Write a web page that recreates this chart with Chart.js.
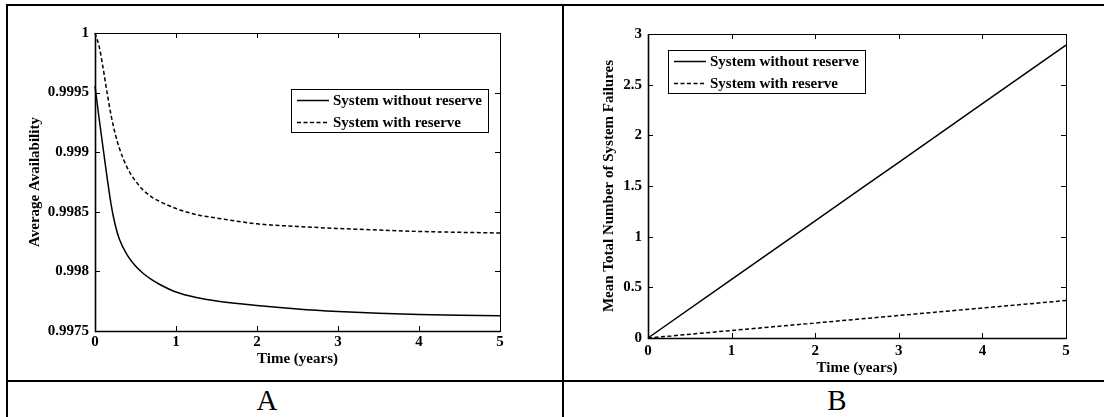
<!DOCTYPE html>
<html>
<head>
<meta charset="utf-8">
<script src="https://cdn.jsdelivr.net/npm/chart.js@4.4.1/dist/chart.umd.min.js"></script>
<style>
    body { margin: 0; background: #fff; }
    #page { position: relative; width: 1104px; height: 417px; overflow: hidden; font-family: "Liberation Serif", serif; }
    .rule { position: absolute; background: #000; }
    canvas { position: absolute; top: 0; }
    .tag { position: absolute; font-size: 29px; line-height: 1; transform: translate(-50%, -50%); }
</style>
</head>
<body>
<div id="page">
    <div class="rule" style="left:6px; top:4px; width:1098px; height:2px"></div>
    <div class="rule" style="left:6px; top:4px; width:2px; height:413px"></div>
    <div class="rule" style="left:562px; top:4px; width:2px; height:413px"></div>
    <div class="rule" style="left:6px; top:380px; width:1098px; height:2px"></div>
    <canvas id="chartA" width="552" height="381" style="left:0"></canvas>
    <canvas id="chartB" width="541" height="381" style="left:563px"></canvas>
    <div class="tag" style="left:267px; top:400px">A</div>
    <div class="tag" style="left:837px; top:400px">B</div>
</div>
<script>
const FONT = '"Liberation Serif", serif';

const seriesNames = ['System without reserve', 'System with reserve'];

// Panel A - average availability vs time
const timeA = [0, 0.05, 0.1, 0.15, 0.2, 0.25, 0.3, 0.4, 0.5, 0.6, 0.7, 0.8, 1.0, 1.25, 1.5, 2, 2.5, 3, 3.5, 4, 4.5, 5];
const availNoReserve = [0.999555, 0.999287, 0.999035, 0.998784, 0.998557, 0.998389, 0.998272, 0.998135, 0.998045, 0.997980,
    0.997930, 0.997890, 0.997827, 0.997781, 0.997752, 0.997714, 0.997685, 0.997664, 0.997649, 0.997638, 0.997633, 0.997628];
const availReserve = [1.0, 0.999891, 0.999706, 0.999497, 0.999304, 0.999153, 0.999035, 0.998867, 0.998758, 0.998679,
    0.998624, 0.998586, 0.998528, 0.998477, 0.998448, 0.998399, 0.998377, 0.998360, 0.998347, 0.998335, 0.998328, 0.998322];
const availTicks = [0.9975, 0.998, 0.9985, 0.999, 0.9995, 1];
const availTickLabels = ['0.9975', '0.998', '0.9985', '0.999', '0.9995', '1'];

// Panel B - mean total number of system failures vs time
const timeB = [0, 1, 2, 3, 4, 5];
const failNoReserve = [0, 0.578, 1.156, 1.734, 2.312, 2.89];
const failReserve = [0, 0.074, 0.148, 0.222, 0.296, 0.37];
const failTicks = [0, 0.5, 1, 1.5, 2, 2.5, 3];
const failTickLabels = ['0', '0.5', '1', '1.5', '2', '2.5', '3'];

const timeTicks = [0, 1, 2, 3, 4, 5];
const timeTickLabels = ['0', '1', '2', '3', '4', '5'];

// frame round the plot with inward ticks on all four sides
const matlabBox = {
    id: 'matlabBox',
    afterDatasetsDraw(chart) {
        const { ctx, chartArea: a, scales: { x, y } } = chart;
        ctx.save();
        ctx.strokeStyle = '#000';
        ctx.lineWidth = 1;
        ctx.strokeRect(a.left + 0.5, a.top + 0.5, a.right - a.left, a.bottom - a.top);
        ctx.beginPath();
        ctx.lineWidth = 1.6;
        ctx.moveTo(a.left + 0.5, a.top);
        ctx.lineTo(a.left + 0.5, a.bottom + 0.5);
        ctx.lineTo(a.right + 0.5, a.bottom + 0.5);
        ctx.stroke();
        ctx.lineWidth = 1;
        ctx.beginPath();
        x.ticks.forEach(t => {
            const px = Math.round(x.getPixelForValue(t.value)) + 0.5;
            ctx.moveTo(px, a.bottom); ctx.lineTo(px, a.bottom - 5);
            ctx.moveTo(px, a.top); ctx.lineTo(px, a.top + 5);
        });
        y.ticks.forEach(t => {
            const py = Math.round(y.getPixelForValue(t.value)) + 0.5;
            ctx.moveTo(a.left, py); ctx.lineTo(a.left + 5, py);
            ctx.moveTo(a.right, py); ctx.lineTo(a.right - 5, py);
        });
        ctx.stroke();
        ctx.restore();
    }
};

// boxed legend inside the plot
const boxLegend = {
    id: 'boxLegend',
    afterDraw(chart, args, opts) {
        const { ctx, chartArea: a } = chart;
        ctx.save();
        ctx.font = 'bold 15px ' + FONT;
        const sets = chart.data.datasets;
        const textW = Math.max(...sets.map(d => ctx.measureText(d.label).width));
        const w = Math.round(42 + textW + 6);
        const h = 43;
        const left = Math.round(opts.left != null ? a.left + opts.left : a.right - opts.right - w);
        const top = Math.round(a.top + opts.top);
        ctx.fillStyle = '#fff';
        ctx.fillRect(left, top, w, h);
        ctx.strokeStyle = '#000';
        ctx.lineWidth = 1;
        ctx.strokeRect(left + 0.5, top + 0.5, w, h);
        sets.forEach((d, i) => {
            const cy = top + 11.5 + i * 22;
            ctx.setLineDash(d.borderDash || []);
            ctx.lineWidth = 1.5;
            ctx.beginPath();
            ctx.moveTo(left + 6, cy);
            ctx.lineTo(left + 38, cy);
            ctx.stroke();
            ctx.setLineDash([]);
            ctx.fillStyle = '#000';
            ctx.textBaseline = 'middle';
            ctx.fillText(d.label, left + 42, cy + 1);
        });
        ctx.restore();
    }
};

function makeChart(id, cfg) {
    const font = { family: FONT, size: 15, weight: 'bold' };
    const toPoints = vals => cfg.time.map((t, i) => ({ x: t, y: vals[i] }));
    return new Chart(document.getElementById(id), {
        type: 'line',
        data: {
            datasets: [
                { label: seriesNames[0], data: toPoints(cfg.solid), borderColor: '#000', borderWidth: 1.5,
                  pointRadius: 0, cubicInterpolationMode: 'monotone', clip: false },
                { label: seriesNames[1], data: toPoints(cfg.dashed), borderColor: '#000', borderWidth: 1.5,
                  borderDash: [4, 2.5], pointRadius: 0, cubicInterpolationMode: 'monotone', clip: false }
            ]
        },
        options: {
            responsive: false,
            animation: false,
            layout: { padding: cfg.padding },
            plugins: {
                legend: { display: false },
                tooltip: { enabled: false },
                boxLegend: cfg.legend
            },
            scales: {
                x: {
                    type: 'linear', min: 0, max: 5,
                    afterBuildTicks: s => { s.ticks = timeTicks.map(v => ({ value: v })); },
                    afterFit: s => { s.height = cfg.xHeight; },
                    grid: { display: false, drawTicks: false },
                    border: { display: false },
                    ticks: { color: '#000', font, padding: cfg.xTickPad, maxRotation: 0, autoSkip: false,
                             callback: (v, i) => timeTickLabels[i] },
                    title: { display: true, text: 'Time (years)', color: '#000', font,
                             padding: { top: 0, bottom: cfg.xTitlePad } }
                },
                y: {
                    type: 'linear', min: cfg.yTicks[0], max: cfg.yTicks[cfg.yTicks.length - 1],
                    afterBuildTicks: s => { s.ticks = cfg.yTicks.map(v => ({ value: v })); },
                    afterFit: s => { s.width = cfg.yWidth; },
                    grid: { display: false, drawTicks: false },
                    border: { display: false },
                    ticks: { color: '#000', font, padding: 6, autoSkip: false,
                             callback: (v, i) => cfg.yLabels[i] },
                    title: { display: true, text: cfg.yTitle, color: '#000', font,
                             padding: { top: cfg.yTitlePad, bottom: 0 } }
                }
            }
        },
        plugins: [matlabBox, boxLegend]
    });
}

makeChart('chartA', {
    time: timeA, solid: availNoReserve, dashed: availReserve,
    yTicks: availTicks, yLabels: availTickLabels, yTitle: 'Average Availability',
    padding: { left: 0, right: 52, top: 33, bottom: 0 },
    yWidth: 95, xHeight: 50, xTickPad: 2, xTitlePad: 12.5, yTitlePad: 26,
    legend: { right: 12, top: 56 }
});

makeChart('chartB', {
    time: timeB, solid: failNoReserve, dashed: failReserve,
    yTicks: failTicks, yLabels: failTickLabels, yTitle: 'Mean Total Number of System Failures',
    padding: { left: 0, right: 38, top: 34, bottom: 0 },
    yWidth: 85, xHeight: 43, xTickPad: 4.5, xTitlePad: 4, yTitlePad: 37.5,
    legend: { left: 20, top: 16 }
});
</script>
</body>
</html>
